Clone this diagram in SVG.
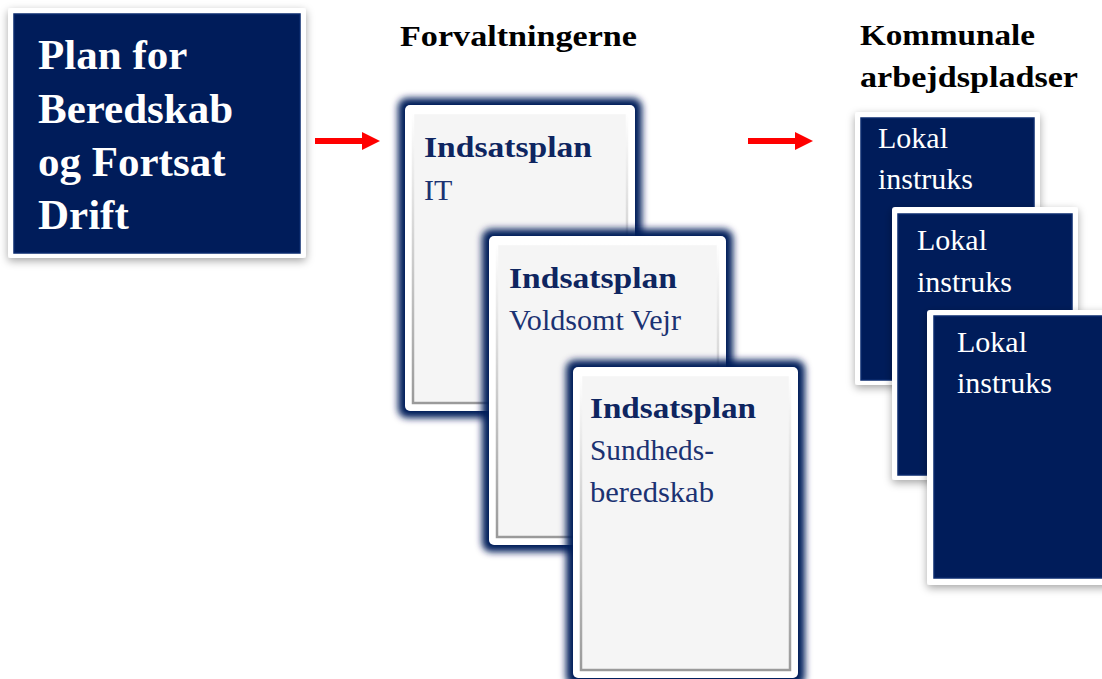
<svg xmlns="http://www.w3.org/2000/svg" width="1102" height="679" viewBox="0 0 1102 679">
<defs>
  <filter id="shadow" x="-20%" y="-20%" width="140%" height="140%">
    <feDropShadow dx="0" dy="3" stdDeviation="4" flood-color="#000" flood-opacity="0.35"/>
  </filter>
  <filter id="glow" x="-20%" y="-20%" width="140%" height="140%">
    <feGaussianBlur stdDeviation="3.5"/>
  </filter>
  <marker id="arrow" markerUnits="userSpaceOnUse" markerWidth="20" markerHeight="20" refX="0" refY="9" orient="auto">
    <path d="M0,0 L18,9 L0,18 Z" fill="#FF0000"/>
  </marker>
  <linearGradient id="bevel" x1="0" y1="0" x2="0" y2="1">
    <stop offset="0" stop-color="#FFFFFF"/>
    <stop offset="1" stop-color="#9A9A9A"/>
  </linearGradient>
</defs>
<style>
  .navybox { fill: #001C5A; }
  .whiteframe { fill: #FFFFFF; }
  .glow { fill: #001C5A; filter: url(#glow); }
  .panel { fill: #F5F5F5; stroke: url(#bevel); stroke-width: 2.5; }
  .navyinner { fill: #001C5A; stroke: #0A2A6E; stroke-width: 1.5; }
  .bigt { font-family: "Liberation Serif", serif; font-weight: bold; font-size: 43px; fill: #FFFFFF; }
  .head { font-family: "Liberation Serif", serif; font-weight: bold; font-size: 30px; fill: #000000; }
  .cardb { font-family: "Liberation Serif", serif; font-weight: bold; font-size: 30px; fill: #0E2560; }
  .cardr { font-family: "Liberation Serif", serif; font-size: 30px; fill: #1B3272; }
  .lok { font-family: "Liberation Serif", serif; font-size: 30px; fill: #FFFFFF; }
  .conn { stroke: #FF0000; stroke-width: 6; fill: none; }
</style>

<g id="plan">
  <rect x="8" y="8" width="298" height="250" rx="3" class="whiteframe" filter="url(#shadow)"/>
  <rect x="14" y="14" width="286" height="239" class="navyinner"/>
  <text class="bigt" x="38" y="69">Plan for</text>
  <text class="bigt" x="38" y="123">Beredskab</text>
  <text class="bigt" x="38" y="176">og Fortsat</text>
  <text class="bigt" x="38" y="229">Drift</text>
</g>

<g id="heading-forvaltningerne">
  <text class="head" x="400" y="46" textLength="237" lengthAdjust="spacingAndGlyphs">Forvaltningerne</text>
</g>

<g id="heading-kommunale">
  <text class="head" x="860" y="45" textLength="175" lengthAdjust="spacingAndGlyphs">Kommunale</text>
  <text class="head" x="860" y="87" textLength="218" lengthAdjust="spacingAndGlyphs">arbejdspladser</text>
</g>

<g id="card-it">
  <rect x="398" y="98" width="244" height="320" rx="9" class="glow"/>
  <rect x="405" y="105" width="230" height="306" rx="5" class="whiteframe"/>
  <rect x="413" y="113" width="214" height="290" class="panel"/>
  <text class="cardb" x="424" y="157" textLength="168" lengthAdjust="spacingAndGlyphs">Indsatsplan</text>
  <text class="cardr" x="424" y="200">IT</text>
</g>

<g id="card-vejr">
  <rect x="482" y="229" width="251" height="323" rx="9" class="glow"/>
  <rect x="489" y="236" width="237" height="309" rx="5" class="whiteframe"/>
  <rect x="497" y="244" width="221" height="293" class="panel"/>
  <text class="cardb" x="509" y="288" textLength="168" lengthAdjust="spacingAndGlyphs">Indsatsplan</text>
  <text class="cardr" x="509" y="330" textLength="172" lengthAdjust="spacingAndGlyphs">Voldsomt Vejr</text>
</g>

<g id="card-sundhed">
  <rect x="566" y="360" width="239" height="326" rx="9" class="glow"/>
  <rect x="573" y="367" width="225" height="311" rx="5" class="whiteframe"/>
  <rect x="581" y="375" width="209" height="295" class="panel"/>
  <text class="cardb" x="590" y="418" textLength="166" lengthAdjust="spacingAndGlyphs">Indsatsplan</text>
  <text class="cardr" x="590" y="460" textLength="124" lengthAdjust="spacingAndGlyphs">Sundheds-</text>
  <text class="cardr" x="590" y="502" textLength="124" lengthAdjust="spacingAndGlyphs">beredskab</text>
</g>

<g id="lokal-1">
  <rect x="855" y="112" width="185" height="273" rx="3" class="whiteframe" filter="url(#shadow)"/>
  <rect x="861" y="118" width="173" height="262" class="navyinner"/>
  <text class="lok" x="878" y="148">Lokal</text>
  <text class="lok" x="878" y="189">instruks</text>
</g>

<g id="lokal-2">
  <rect x="892" y="207" width="186" height="273" rx="3" class="whiteframe" filter="url(#shadow)"/>
  <rect x="898" y="214" width="174" height="261" class="navyinner"/>
  <text class="lok" x="917" y="250">Lokal</text>
  <text class="lok" x="917" y="292">instruks</text>
</g>

<g id="lokal-3">
  <rect x="927" y="310" width="185" height="275" rx="3" class="whiteframe" filter="url(#shadow)"/>
  <rect x="934" y="316" width="175" height="262" class="navyinner"/>
  <text class="lok" x="957" y="352">Lokal</text>
  <text class="lok" x="957" y="393">instruks</text>
</g>

<g id="connectors">
  <line x1="315" y1="141" x2="362" y2="141" class="conn" marker-end="url(#arrow)"/>
  <line x1="748" y1="141" x2="795" y2="141" class="conn" marker-end="url(#arrow)"/>
</g>
</svg>
